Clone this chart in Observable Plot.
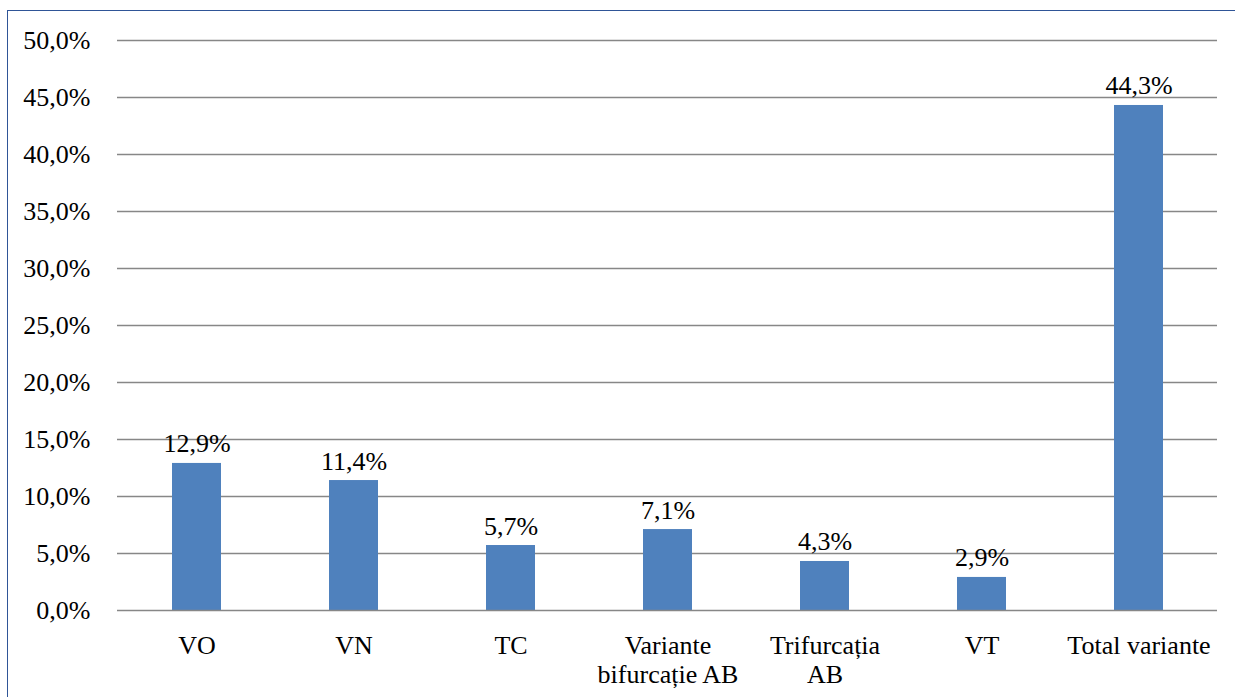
<!DOCTYPE html>
<html>
<head>
<meta charset="utf-8">
<script src="https://cdn.jsdelivr.net/npm/d3@7"></script>
<script src="https://cdn.jsdelivr.net/npm/@observablehq/plot@0.6"></script>
<style>
  html, body { margin: 0; padding: 0; background: #fff; font-family: 'Liberation Serif', serif; }
  #wrap { position: relative; width: 1235px; height: 697px; overflow: hidden; }
  #border { position: absolute; left: 7px; top: 10px; width: 1300px; height: 800px;
            border-top: 1.5px solid #2f5597; border-left: 1.5px solid #2f5597; box-sizing: border-box; pointer-events: none; }
</style>
</head>
<body>
<div id="wrap"><div id="border"></div></div>
<script>
const categories = ["VO", "VN", "TC", "Variante bifurcație AB", "Trifurcația AB", "VT", "Total variante"];
const tickLabels = ["VO", "VN", "TC", "Variante\nbifurcație AB", "Trifurcația\nAB", "VT", "Total variante"];
const values = [12.9, 11.4, 5.7, 7.1, 4.3, 2.9, 44.3];
const yTicks = [0, 5, 10, 15, 20, 25, 30, 35, 40, 45, 50];

const data = categories.map((c, i) => ({category: c, value: values[i]}));
const fmt = v => v.toFixed(1).replace(".", ",") + "%";
const serif = "Liberation Serif";

const chart = Plot.plot({
  width: 1235,
  height: 697,
  marginLeft: 117,
  marginRight: 18,
  marginTop: 40,
  marginBottom: 87,
  style: "font-family: 'Liberation Serif', serif; font-size: 26px; color: #000; background: transparent; overflow: visible;",
  x: {domain: categories, paddingInner: 0.69, paddingOuter: 0.345, label: null},
  y: {domain: [0, 50], label: null},
  marks: [
    Plot.ruleY(yTicks.filter(d => d > 0), {stroke: "#878787", strokeWidth: 1.4}),
    Plot.barY(data, {x: "category", y: "value", fill: "#4f81bd"}),
    Plot.ruleY([0], {stroke: "#878787", strokeWidth: 1.6}),
    Plot.ruleX([0], {frameAnchor: "left", y1: 0, y2: 50, stroke: "#878787", strokeWidth: 1.6}),
    Plot.axisY({ticks: yTicks, tickSize: 0, tickPadding: 27, tickFormat: fmt, fontSize: 26, fontFamily: serif, fill: "#000"}),
    Plot.axisX({tickSize: 0, tickPadding: 23, tickFormat: d => tickLabels[categories.indexOf(d)], fontSize: 26, fontFamily: serif, lineHeight: 1.12, fill: "#000"}),
    Plot.text(data, {x: "category", y: "value", text: d => fmt(d.value), lineAnchor: "bottom", dy: -11, fontSize: 26, fontFamily: serif, fill: "#000"})
  ]
});
chart.querySelectorAll("text, g").forEach(el => {
  el.style.fontFamily = "'Liberation Serif', serif";
  el.setAttribute("font-family", "Liberation Serif");
});
document.getElementById("wrap").prepend(chart);
</script>
</body>
</html>
